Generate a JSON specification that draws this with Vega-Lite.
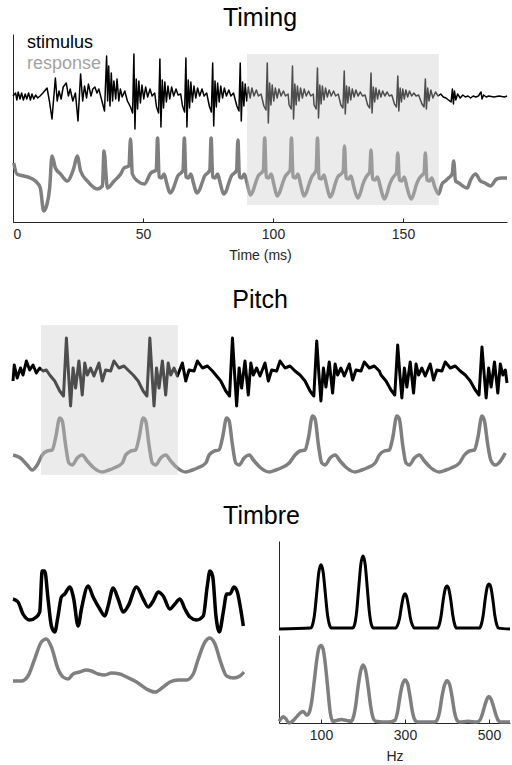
{
  "$schema": "https://vega.github.io/schema/vega-lite/v6.json",
  "padding": {"left": 9, "top": 6, "right": 0, "bottom": 0},
  "background": "white",
  "spacing": 26,
  "config": {
    "font": "Liberation Sans",
    "view": {"stroke": null},
    "title": {"fontSize": 25, "fontWeight": "normal", "color": "#000000", "anchor": "middle", "font": "Liberation Sans"},
    "axis": {"domainColor": "#262626", "tickColor": "#262626", "labelColor": "#262626", "titleColor": "#262626", "labelFontSize": 14, "titleFontSize": 14, "titleFontWeight": "normal", "grid": false, "labelFont": "Liberation Sans", "titleFont": "Liberation Sans"}
  },
  "vconcat": [
    {
      "title": {"text": "Timing", "offset": 3},
      "width": 494,
      "height": 188,
      "resolve": {"scale": {"y": "independent"}},
      "layer": [
        {
          "data": {"values": [
            {"t":0,"a":0},{"t":1,"a":3},{"t":1.5,"a":-4},{"t":2,"a":4},{"t":2.7,"a":-3},{"t":3.3,"a":3},{"t":4,"a":-4},{"t":4.7,"a":2},{"t":5.3,"a":-3},{"t":6,"a":3},{"t":6.7,"a":-4},{"t":7.3,"a":2},{"t":8,"a":-3},{"t":8.7,"a":1},{"t":9.5,"a":-2},{"t":10.4,"a":0},{"t":11.5,"a":3},{"t":13.1,"a":8},{"t":14,"a":-5},{"t":15,"a":-23},{"t":16.3,"a":18},{"t":17,"a":-5},{"t":17.7,"a":5},{"t":18.5,"a":-3},{"t":19.3,"a":9},{"t":20.5,"a":13},{"t":21.3,"a":0},{"t":22,"a":7},{"t":23,"a":-5},{"t":24,"a":3},{"t":25,"a":-25},{"t":26,"a":22},{"t":26.8,"a":-5},{"t":27.5,"a":10},{"t":28.3,"a":-2},{"t":29,"a":12},{"t":30,"a":0},{"t":30.7,"a":7},{"t":31.5,"a":9},{"t":32.3,"a":3},{"t":33,"a":7},{"t":34,"a":-3},{"t":35.2,"a":-15},{"t":36,"a":40},{"t":36.4,"a":-5},{"t":36.8,"a":30},{"t":37.3,"a":-10},{"t":37.8,"a":23},{"t":38.3,"a":-5},{"t":38.8,"a":15},{"t":39.5,"a":-3},{"t":40,"a":17},{"t":40.7,"a":-5},{"t":41.3,"a":7},{"t":42,"a":-1},{"t":43,"a":5},{"t":44,"a":-5},
            {"t":45.2,"a":-11},{"t":46,"a":-17},{"t":46.5,"a":42},{"t":46.9,"a":-33},{"t":47.4,"a":17},{"t":47.9,"a":-13},{"t":48.4,"a":15},{"t":49,"a":-7},{"t":49.6,"a":11},{"t":50.3,"a":-3},{"t":51,"a":9},{"t":51.8,"a":-1},{"t":52.7,"a":7},{"t":53.5,"a":0},{"t":54.5,"a":3},
            {"t":55.2,"a":-11},{"t":56,"a":-17},{"t":56.5,"a":37},{"t":56.9,"a":-31},{"t":57.4,"a":16},{"t":57.9,"a":-12},{"t":58.4,"a":14},{"t":59,"a":-6},{"t":59.6,"a":10},{"t":60.3,"a":-3},{"t":61,"a":9},{"t":61.8,"a":0},{"t":62.7,"a":7},{"t":63.5,"a":1},{"t":64.5,"a":2},
            {"t":65.2,"a":-10},{"t":66,"a":-16},{"t":66.5,"a":38},{"t":66.9,"a":-31},{"t":67.4,"a":16},{"t":67.9,"a":-12},{"t":68.4,"a":14},{"t":69,"a":-6},{"t":69.6,"a":10},{"t":70.3,"a":-2},{"t":71,"a":8},{"t":71.8,"a":0},{"t":72.7,"a":7},{"t":73.5,"a":0},{"t":74.5,"a":3},
            {"t":75.5,"a":-10},{"t":76.3,"a":-16},{"t":76.8,"a":33},{"t":77.2,"a":-30},{"t":77.7,"a":15},{"t":78.2,"a":-11},{"t":78.7,"a":13},{"t":79.3,"a":-6},{"t":79.9,"a":10},{"t":80.6,"a":-2},{"t":81.3,"a":8},{"t":82.1,"a":0},{"t":83,"a":6},{"t":83.8,"a":0},{"t":84.8,"a":3},
            {"t":86.1,"a":-10},{"t":86.9,"a":-15},{"t":87.4,"a":33},{"t":87.8,"a":-25},{"t":88.3,"a":14},{"t":88.8,"a":-10},{"t":89.3,"a":12},{"t":89.9,"a":-5},{"t":90.5,"a":9},{"t":91.2,"a":-2},{"t":91.9,"a":8},{"t":92.7,"a":0},{"t":93.6,"a":6},{"t":94.4,"a":0},{"t":95.4,"a":2},
            {"t":96.5,"a":-10},{"t":97.3,"a":-14},{"t":97.8,"a":33},{"t":98.2,"a":-27},{"t":98.7,"a":13},{"t":99.2,"a":-9},{"t":99.7,"a":11},{"t":100.3,"a":-5},{"t":100.9,"a":8},{"t":101.6,"a":-2},{"t":102.3,"a":7},{"t":103.1,"a":0},{"t":104,"a":5},{"t":104.8,"a":0},{"t":105.8,"a":2},
            {"t":106.2,"a":-9},{"t":107,"a":-13},{"t":107.5,"a":30},{"t":107.9,"a":-23},{"t":108.4,"a":12},{"t":108.9,"a":-9},{"t":109.4,"a":10},{"t":110,"a":-5},{"t":110.6,"a":8},{"t":111.3,"a":-2},{"t":112,"a":7},{"t":112.8,"a":0},{"t":113.7,"a":5},{"t":114.5,"a":0},{"t":115.5,"a":2},
            {"t":115.8,"a":-9},{"t":116.6,"a":-13},{"t":117.1,"a":28},{"t":117.5,"a":-22},{"t":118,"a":11},{"t":118.5,"a":-8},{"t":119,"a":10},{"t":119.6,"a":-4},{"t":120.2,"a":8},{"t":120.9,"a":-1},{"t":121.6,"a":6},{"t":122.4,"a":0},{"t":123.3,"a":5},{"t":124.1,"a":0},{"t":125.1,"a":2},
            {"t":126.1,"a":-9},{"t":126.9,"a":-12},{"t":127.4,"a":25},{"t":127.8,"a":-18},{"t":128.3,"a":10},{"t":128.8,"a":-7},{"t":129.3,"a":9},{"t":129.9,"a":-4},{"t":130.5,"a":7},{"t":131.2,"a":-1},{"t":131.9,"a":6},{"t":132.7,"a":0},{"t":133.6,"a":4},{"t":134.4,"a":0},{"t":135.4,"a":1},
            {"t":136.4,"a":-9},{"t":137.2,"a":-12},{"t":137.7,"a":23},{"t":138.1,"a":-17},{"t":138.6,"a":9},{"t":139.1,"a":-6},{"t":139.6,"a":8},{"t":140.2,"a":-3},{"t":140.8,"a":6},{"t":141.5,"a":-1},{"t":142.2,"a":5},{"t":143,"a":0},{"t":143.9,"a":4},{"t":144.7,"a":0},{"t":145.7,"a":1},
            {"t":146.7,"a":-8},{"t":147.5,"a":-11},{"t":148,"a":20},{"t":148.4,"a":-15},{"t":148.9,"a":8},{"t":149.4,"a":-6},{"t":149.9,"a":7},{"t":150.5,"a":-3},{"t":151.1,"a":6},{"t":151.8,"a":-1},{"t":152.5,"a":5},{"t":153.3,"a":0},{"t":154.2,"a":3},{"t":155,"a":0},{"t":156,"a":1},
            {"t":157.3,"a":-8},{"t":158.1,"a":-11},{"t":158.6,"a":17},{"t":159,"a":-13},{"t":159.5,"a":8},{"t":160,"a":-5},{"t":160.7,"a":6},{"t":161.5,"a":-2},{"t":162.5,"a":4},{"t":163.5,"a":0},{"t":164.5,"a":2},{"t":165.5,"a":-1},{"t":166.5,"a":-2},{"t":167.5,"a":-4},{"t":168.5,"a":-6},{"t":169,"a":7},{"t":169.4,"a":-8},{"t":169.8,"a":5},{"t":170.3,"a":-4},{"t":171,"a":2},{"t":172,"a":-2},{"t":173,"a":1},{"t":174,"a":-1},{"t":175,"a":0},{"t":176,"a":-2},{"t":177,"a":0},{"t":178,"a":-1},{"t":179,"a":0},{"t":180,"a":4},{"t":180.4,"a":-3},{"t":181,"a":1},{"t":182,"a":-1},{"t":183,"a":0},{"t":185,"a":-1},{"t":187,"a":0},{"t":189,"a":-1},{"t":190,"a":0}
          ]},
          "mark": {"type": "line", "strokeWidth": 1.5, "strokeJoin": "round"},
          "encoding": {
            "x": {"field": "t", "type": "quantitative", "scale": {"domain": [0, 190], "nice": false, "zero": false},
                  "axis": {"values": [0, 50, 100, 150], "title": "Time (ms)", "tickSize": -4, "labelPadding": 9, "titlePadding": 7, "domain": true}},
            "y": {"field": "a", "type": "quantitative", "scale": {"domain": [-126, 62], "nice": false, "zero": false},
                  "axis": {"labels": false, "ticks": false, "title": null, "domain": true}},
            "color": {"datum": "stimulus", "type": "nominal", "scale": {"domain": ["stimulus", "response"], "range": ["#000000", "#7f7f7f"]},
                      "legend": {"orient": "none", "legendX": -4, "legendY": 0, "title": null, "labelFontSize": 18, "labelFont": "Liberation Sans", "symbolSize": 0, "symbolOpacity": 0, "symbolStrokeWidth": 0, "labelOffset": 0, "rowPadding": 3,
                                 "encode": {"labels": {"update": {"fill": {"signal": "datum.value === 'stimulus' ? '#000000' : '#a3a3a3'"}}}}}}
          }
        },
        {
          "data": {"values": [
            {"t":0.3,"a":23},{"t":1.5,"a":12},{"t":4.1,"a":10},{"t":6.7,"a":8},{"t":8.6,"a":5},{"t":10.5,"a":-2},{"t":11.8,"a":-25},{"t":13.1,"a":-18},{"t":14.1,"a":-2},{"t":15,"a":30},{"t":16.3,"a":18},{"t":18.3,"a":12},{"t":20.8,"a":5},{"t":23.4,"a":18},{"t":24.7,"a":30},{"t":26,"a":15},{"t":28.6,"a":5},{"t":32.4,"a":-3},{"t":34.4,"a":0},{"t":35,"a":35},{"t":36.3,"a":-2},{"t":38.9,"a":5},{"t":41.4,"a":12},{"t":42.7,"a":18},{"t":44.6,"a":20},{"t":45.2,"a":47},{"t":45.9,"a":12},{"t":47.9,"a":5},{"t":50.5,"a":2},{"t":53,"a":13},
            {"t":55.1,"a":16},{"t":55.6,"a":48},{"t":56.2,"a":9},{"t":57.1,"a":8},{"t":58.1,"a":12},{"t":59.1,"a":3},{"t":60.4,"a":-7},{"t":61.4,"a":-4},{"t":62.4,"a":3},{"t":63.4,"a":10},{"t":64.6,"a":13},
            {"t":65.4,"a":16},{"t":65.9,"a":48},{"t":66.5,"a":9},{"t":67.4,"a":8},{"t":68.4,"a":12},{"t":69.4,"a":3},{"t":70.7,"a":-7},{"t":71.7,"a":-4},{"t":72.7,"a":3},{"t":73.7,"a":10},{"t":74.9,"a":13},
            {"t":75.7,"a":16},{"t":76.2,"a":48},{"t":76.8,"a":9},{"t":77.7,"a":8},{"t":78.7,"a":12},{"t":79.7,"a":3},{"t":81,"a":-8},{"t":82,"a":-5},{"t":83,"a":3},{"t":84,"a":10},{"t":85.2,"a":13},
            {"t":86,"a":16},{"t":86.5,"a":46},{"t":87.1,"a":9},{"t":88,"a":8},{"t":89,"a":12},{"t":90,"a":3},{"t":91.3,"a":-9},{"t":92.3,"a":-5},{"t":93.3,"a":3},{"t":94.3,"a":10},{"t":95.5,"a":13},
            {"t":96.3,"a":16},{"t":96.8,"a":48},{"t":97.4,"a":9},{"t":98.3,"a":8},{"t":99.3,"a":12},{"t":100.3,"a":2},{"t":101.6,"a":-10},{"t":102.6,"a":-6},{"t":103.6,"a":2},{"t":104.6,"a":9},{"t":105.8,"a":13},
            {"t":106.6,"a":16},{"t":107.1,"a":48},{"t":107.7,"a":9},{"t":108.6,"a":8},{"t":109.6,"a":12},{"t":110.6,"a":2},{"t":111.9,"a":-10},{"t":112.9,"a":-6},{"t":113.9,"a":2},{"t":114.9,"a":9},{"t":116,"a":13},
            {"t":116.6,"a":16},{"t":117.1,"a":48},{"t":117.7,"a":8},{"t":118.6,"a":7},{"t":119.6,"a":11},{"t":120.6,"a":1},{"t":121.9,"a":-11},{"t":122.9,"a":-7},{"t":123.9,"a":2},{"t":124.9,"a":9},{"t":126.2,"a":12},
            {"t":127,"a":15},{"t":127.5,"a":40},{"t":128.1,"a":8},{"t":129,"a":7},{"t":130,"a":10},{"t":131,"a":0},{"t":132.6,"a":-12},{"t":133.6,"a":-7},{"t":134.6,"a":2},{"t":135.6,"a":8},{"t":136.7,"a":12},
            {"t":137.2,"a":14},{"t":137.7,"a":36},{"t":138.3,"a":7},{"t":139.2,"a":6},{"t":140.2,"a":9},{"t":141.2,"a":0},{"t":142.8,"a":-13},{"t":143.8,"a":-8},{"t":144.8,"a":1},{"t":145.8,"a":7},{"t":146.9,"a":11},
            {"t":147.5,"a":13},{"t":148,"a":33},{"t":148.6,"a":6},{"t":149.5,"a":5},{"t":150.5,"a":9},{"t":151.5,"a":-1},{"t":153.1,"a":-13},{"t":154.1,"a":-8},{"t":155.1,"a":1},{"t":156.1,"a":7},{"t":157.4,"a":11},
            {"t":158.1,"a":13},{"t":158.6,"a":33},{"t":159.2,"a":6},{"t":160.1,"a":5},{"t":161.1,"a":8},{"t":162.1,"a":0},{"t":163.7,"a":-8},{"t":165,"a":2},{"t":166.3,"a":5},{"t":167.5,"a":8},{"t":168.9,"a":12},{"t":169.5,"a":25},{"t":170.2,"a":5},{"t":171.5,"a":3},{"t":173,"a":0},{"t":174.7,"a":-2},{"t":176,"a":6},{"t":177.9,"a":12},{"t":179.8,"a":5},{"t":181.5,"a":3},{"t":183.7,"a":0},{"t":186,"a":7},{"t":188,"a":8},{"t":190,"a":8}
          ]},
          "mark": {"type": "line", "strokeWidth": 3.5, "strokeJoin": "round", "interpolate": "monotone"},
          "encoding": {
            "x": {"field": "t", "type": "quantitative", "scale": {"domain": [0, 190], "nice": false, "zero": false}},
            "y": {"field": "a", "type": "quantitative", "scale": {"domain": [-36, 152], "nice": false, "zero": false}, "axis": null},
            "color": {"datum": "response", "type": "nominal"}
          }
        },
        {
          "data": {"values": [{"t0": 90, "t1": 163.8, "a0": 42, "a1": -109}]},
          "mark": {"type": "rect", "fill": "#cacaca", "opacity": 0.38},
          "encoding": {
            "x": {"field": "t0", "type": "quantitative", "scale": {"domain": [0, 190], "nice": false, "zero": false}},
            "x2": {"field": "t1"},
            "y": {"field": "a0", "type": "quantitative", "scale": {"domain": [-126, 62], "nice": false, "zero": false}, "axis": null},
            "y2": {"field": "a1"}
          }
        }
      ]
    },
    {
      "title": {"text": "Pitch", "offset": 10},
      "width": 494,
      "height": 155,
      "resolve": {"scale": {"y": "independent"}},
      "layer": [
        {
          "data": {"values": [
            {"t":0,"a":-8},{"t":0.15,"a":8},{"t":0.5,"a":-5},{"t":0.9,"a":5},{"t":1.2,"a":-2},{"t":1.6,"a":12},{"t":2,"a":3},{"t":2.4,"a":8},{"t":2.8,"a":0},{"t":3.2,"a":5},{"t":3.6,"a":2},{"t":4,"a":3},
            {"t":4.4,"a":-2},{"t":5,"a":-8},{"t":5.6,"a":-18},{"t":6.05,"a":-23},{"t":6.4,"a":35},{"t":6.65,"a":0},{"t":6.9,"a":-33},{"t":7.2,"a":5},{"t":7.5,"a":-15},{"t":7.9,"a":12},{"t":8.3,"a":-22},{"t":8.6,"a":10},{"t":8.9,"a":-2},{"t":9.3,"a":5},{"t":9.7,"a":-3},{"t":10.3,"a":10},{"t":10.7,"a":-8},{"t":11.1,"a":3},{"t":11.7,"a":2},{"t":12.1,"a":12},{"t":12.7,"a":5},{"t":13.3,"a":7},{"t":13.9,"a":2},
            {"t":14.4,"a":-2},{"t":15,"a":-8},{"t":15.6,"a":-18},{"t":16.05,"a":-23},{"t":16.4,"a":35},{"t":16.65,"a":0},{"t":16.9,"a":-33},{"t":17.2,"a":5},{"t":17.5,"a":-15},{"t":17.9,"a":12},{"t":18.3,"a":-22},{"t":18.6,"a":10},{"t":18.9,"a":-2},{"t":19.3,"a":5},{"t":19.7,"a":-3},{"t":20.3,"a":10},{"t":20.7,"a":-8},{"t":21.1,"a":3},{"t":21.7,"a":2},{"t":22.1,"a":12},{"t":22.7,"a":5},{"t":23.3,"a":7},{"t":23.9,"a":2},
            {"t":24.3,"a":-2},{"t":24.9,"a":-8},{"t":25.5,"a":-18},{"t":25.95,"a":-23},{"t":26.3,"a":35},{"t":26.55,"a":0},{"t":26.8,"a":-33},{"t":27.1,"a":5},{"t":27.4,"a":-15},{"t":27.8,"a":12},{"t":28.2,"a":-22},{"t":28.5,"a":10},{"t":28.8,"a":-2},{"t":29.2,"a":5},{"t":29.6,"a":-3},{"t":30.2,"a":10},{"t":30.6,"a":-8},{"t":31,"a":3},{"t":31.6,"a":2},{"t":32,"a":12},{"t":32.6,"a":5},{"t":33.2,"a":7},{"t":33.8,"a":2},
            {"t":34.4,"a":-2},{"t":35,"a":-8},{"t":35.6,"a":-18},{"t":36.05,"a":-23},{"t":36.4,"a":32},{"t":36.65,"a":0},{"t":36.9,"a":-28},{"t":37.2,"a":5},{"t":37.5,"a":-14},{"t":37.9,"a":11},{"t":38.3,"a":-20},{"t":38.6,"a":9},{"t":38.9,"a":-2},{"t":39.3,"a":5},{"t":39.7,"a":-3},{"t":40.3,"a":9},{"t":40.7,"a":-7},{"t":41.1,"a":3},{"t":41.7,"a":2},{"t":42.1,"a":11},{"t":42.7,"a":5},{"t":43.3,"a":7},{"t":43.9,"a":2},
            {"t":44.1,"a":-2},{"t":44.7,"a":-8},{"t":45.3,"a":-17},{"t":45.75,"a":-22},{"t":46.1,"a":28},{"t":46.35,"a":0},{"t":46.6,"a":-25},{"t":46.9,"a":5},{"t":47.2,"a":-14},{"t":47.6,"a":11},{"t":48,"a":-20},{"t":48.3,"a":9},{"t":48.6,"a":-2},{"t":49,"a":5},{"t":49.4,"a":-3},{"t":50,"a":9},{"t":50.4,"a":-7},{"t":50.8,"a":3},{"t":51.4,"a":2},{"t":51.8,"a":11},{"t":52.4,"a":5},{"t":53,"a":7},{"t":53.6,"a":2},
            {"t":54.2,"a":-2},{"t":54.8,"a":-8},{"t":55.4,"a":-17},{"t":55.85,"a":-22},{"t":56.2,"a":26},{"t":56.45,"a":0},{"t":56.7,"a":-25},{"t":57,"a":5},{"t":57.3,"a":-14},{"t":57.7,"a":11},{"t":58.1,"a":-20},{"t":58.4,"a":9},{"t":58.7,"a":-2},{"t":59,"a":3},{"t":59.2,"a":-10}
          ]},
          "mark": {"type": "line", "strokeWidth": 3, "strokeJoin": "round", "color": "#000000"},
          "encoding": {
            "x": {"field": "t", "type": "quantitative", "scale": {"domain": [0, 59.2], "nice": false, "zero": false}, "axis": null},
            "y": {"field": "a", "type": "quantitative", "scale": {"domain": [-105, 50], "nice": false, "zero": false}, "axis": null}
          }
        },
        {
          "data": {"values": [
            {"t":0,"a":3},{"t":0.9,"a":0},{"t":1.7,"a":-7},{"t":2.3,"a":-12},{"t":2.9,"a":-7},
            {"t":3.5,"a":3},{"t":4.1,"a":7},{"t":4.7,"a":8},{"t":5.1,"a":20},{"t":5.6,"a":40},{"t":5.9,"a":37},{"t":6.3,"a":13},{"t":6.7,"a":-5},{"t":7.1,"a":-7},{"t":7.7,"a":0},{"t":8.3,"a":3},{"t":8.9,"a":-3},{"t":9.7,"a":-10},{"t":10.7,"a":-14},{"t":11.5,"a":-12},{"t":12.1,"a":-10},{"t":13.1,"a":-5},
            {"t":13.5,"a":3},{"t":14.1,"a":7},{"t":14.7,"a":8},{"t":15.1,"a":20},{"t":15.6,"a":40},{"t":15.9,"a":37},{"t":16.3,"a":13},{"t":16.7,"a":-5},{"t":17.1,"a":-7},{"t":17.7,"a":0},{"t":18.3,"a":3},{"t":18.9,"a":-3},{"t":19.7,"a":-10},{"t":20.7,"a":-14},{"t":21.5,"a":-12},{"t":22.1,"a":-10},{"t":23.1,"a":-5},
            {"t":23.5,"a":3},{"t":24.1,"a":7},{"t":24.7,"a":8},{"t":25.1,"a":20},{"t":25.6,"a":40},{"t":25.9,"a":37},{"t":26.3,"a":13},{"t":26.7,"a":-5},{"t":27.1,"a":-7},{"t":27.7,"a":0},{"t":28.3,"a":3},{"t":28.9,"a":-3},{"t":29.7,"a":-10},{"t":30.7,"a":-14},{"t":31.5,"a":-12},{"t":32.1,"a":-10},{"t":33.1,"a":-5},
            {"t":33.8,"a":3},{"t":34.4,"a":7},{"t":35,"a":8},{"t":35.4,"a":20},{"t":35.9,"a":42},{"t":36.2,"a":39},{"t":36.6,"a":13},{"t":37,"a":-5},{"t":37.4,"a":-7},{"t":38,"a":0},{"t":38.6,"a":3},{"t":39.2,"a":-3},{"t":40,"a":-10},{"t":41,"a":-14},{"t":41.8,"a":-12},{"t":42.4,"a":-10},{"t":43.4,"a":-5},
            {"t":43.9,"a":3},{"t":44.5,"a":7},{"t":45.1,"a":8},{"t":45.5,"a":20},{"t":46,"a":42},{"t":46.3,"a":39},{"t":46.7,"a":13},{"t":47.1,"a":-5},{"t":47.5,"a":-7},{"t":48.1,"a":0},{"t":48.7,"a":3},{"t":49.3,"a":-3},{"t":50.1,"a":-10},{"t":51.1,"a":-14},{"t":51.9,"a":-12},{"t":52.5,"a":-10},{"t":53.5,"a":-5},
            {"t":54.1,"a":3},{"t":54.7,"a":7},{"t":55.3,"a":8},{"t":55.7,"a":20},{"t":56.2,"a":42},{"t":56.5,"a":37},{"t":56.9,"a":13},{"t":57.3,"a":-3},{"t":57.8,"a":-7},{"t":59,"a":5}
          ]},
          "mark": {"type": "line", "strokeWidth": 3.5, "strokeJoin": "round", "color": "#7f7f7f", "interpolate": "monotone"},
          "encoding": {
            "x": {"field": "t", "type": "quantitative", "scale": {"domain": [0, 59.2], "nice": false, "zero": false}, "axis": null},
            "y": {"field": "a", "type": "quantitative", "scale": {"domain": [-20, 135], "nice": false, "zero": false}, "axis": null}
          }
        },
        {
          "data": {"values": [{"t0": 3.35, "t1": 19.75, "a0": 48, "a1": -102}]},
          "mark": {"type": "rect", "fill": "#cacaca", "opacity": 0.38},
          "encoding": {
            "x": {"field": "t0", "type": "quantitative", "scale": {"domain": [0, 59.2], "nice": false, "zero": false}, "axis": null},
            "x2": {"field": "t1"},
            "y": {"field": "a0", "type": "quantitative", "scale": {"domain": [-105, 50], "nice": false, "zero": false}, "axis": null},
            "y2": {"field": "a1"}
          }
        }
      ]
    },
    {
      "title": {"text": "Timbre", "offset": 12},
      "spacing": 31,
      "hconcat": [
        {
          "width": 231,
          "height": 180,
          "resolve": {"scale": {"y": "independent"}},
          "layer": [
            {
              "data": {"values": [
                {"t":0,"a":5},{"t":0.3,"a":2},{"t":0.6,"a":-10},{"t":1,"a":-16},{"t":1.4,"a":-13},{"t":1.6,"a":-8},{"t":1.75,"a":33},{"t":1.9,"a":33},{"t":2.1,"a":5},{"t":2.3,"a":-22},{"t":2.5,"a":-28},{"t":2.7,"a":-12},{"t":2.9,"a":7},{"t":3.1,"a":10},{"t":3.4,"a":17},{"t":3.64,"a":5},{"t":3.9,"a":-22},{"t":4.1,"a":-5},{"t":4.5,"a":18},{"t":4.8,"a":7},{"t":5.2,"a":-5},{"t":5.5,"a":-12},{"t":5.7,"a":-2},{"t":6,"a":16},{"t":6.3,"a":5},{"t":6.6,"a":-8},{"t":6.9,"a":-2},{"t":7.4,"a":17},{"t":7.8,"a":5},{"t":8.1,"a":-3},{"t":8.4,"a":3},{"t":8.7,"a":12},{"t":9,"a":8},{"t":9.4,"a":-5},{"t":9.7,"a":0},{"t":10,"a":5},{"t":10.3,"a":-5},{"t":10.6,"a":-13},{"t":11,"a":-16},{"t":11.4,"a":-12},{"t":11.64,"a":18},{"t":11.8,"a":33},{"t":11.96,"a":28},{"t":12.16,"a":-12},{"t":12.36,"a":-28},{"t":12.6,"a":-8},{"t":12.8,"a":10},{"t":13,"a":10},{"t":13.24,"a":17},{"t":13.44,"a":12},{"t":13.64,"a":-5},{"t":13.8,"a":-22}
              ]},
              "mark": {"type": "line", "strokeWidth": 3.5, "strokeJoin": "round", "color": "#000000", "interpolate": "monotone"},
              "encoding": {
                "x": {"field": "t", "type": "quantitative", "scale": {"domain": [0, 13.84], "nice": false, "zero": false}, "axis": null},
                "y": {"field": "a", "type": "quantitative", "scale": {"domain": [-117, 63], "nice": false, "zero": false}, "axis": null}
              }
            },
            {
              "data": {"values": [
                {"t":0,"a":-2},{"t":0.5,"a":-2},{"t":0.9,"a":3},{"t":1.3,"a":20},{"t":1.7,"a":37},{"t":2,"a":40},{"t":2.3,"a":32},{"t":2.7,"a":10},{"t":3,"a":2},{"t":3.3,"a":0},{"t":3.6,"a":5},{"t":4,"a":7},{"t":4.4,"a":9},{"t":4.7,"a":8},{"t":5.1,"a":5},{"t":5.5,"a":4},{"t":5.9,"a":6},{"t":6.4,"a":5},{"t":6.8,"a":2},{"t":7.4,"a":-3},{"t":8,"a":-10},{"t":8.5,"a":-13},{"t":9,"a":-8},{"t":9.4,"a":-3},{"t":9.9,"a":-1},{"t":10.4,"a":-1},{"t":10.8,"a":5},{"t":11.1,"a":20},{"t":11.5,"a":37},{"t":11.8,"a":41},{"t":12.1,"a":35},{"t":12.44,"a":17},{"t":12.8,"a":3},{"t":13.2,"a":1},{"t":13.6,"a":3},{"t":13.84,"a":7}
              ]},
              "mark": {"type": "line", "strokeWidth": 3.5, "strokeJoin": "round", "color": "#7f7f7f", "interpolate": "monotone"},
              "encoding": {
                "x": {"field": "t", "type": "quantitative", "scale": {"domain": [0, 13.84], "nice": false, "zero": false}, "axis": null},
                "y": {"field": "a", "type": "quantitative", "scale": {"domain": [-42, 138], "nice": false, "zero": false}, "axis": null}
              }
            }
          ]
        },
        {
          "spacing": 4,
          "vconcat": [
            {
              "width": 231,
              "height": 88,
              "data": {"values": [
                {"f":0,"a":0},{"f":75,"a":0.01},{"f":80,"a":0.05},{"f":85,"a":0.18},{"f":90,"a":0.42},{"f":95,"a":0.65},{"f":100,"a":0.73},{"f":105,"a":0.65},{"f":110,"a":0.42},{"f":115,"a":0.18},{"f":120,"a":0.05},{"f":125,"a":0.01},
                {"f":175,"a":0.01},{"f":180,"a":0.05},{"f":185,"a":0.2},{"f":190,"a":0.48},{"f":195,"a":0.74},{"f":200,"a":0.83},{"f":205,"a":0.74},{"f":210,"a":0.48},{"f":215,"a":0.2},{"f":220,"a":0.05},{"f":225,"a":0.01},
                {"f":278,"a":0.01},{"f":282,"a":0.04},{"f":287,"a":0.12},{"f":292,"a":0.27},{"f":297,"a":0.38},{"f":300,"a":0.4},{"f":303,"a":0.38},{"f":308,"a":0.27},{"f":313,"a":0.12},{"f":318,"a":0.04},{"f":322,"a":0.01},
                {"f":377,"a":0.01},{"f":381,"a":0.04},{"f":386,"a":0.15},{"f":391,"a":0.33},{"f":396,"a":0.46},{"f":400,"a":0.49},{"f":404,"a":0.46},{"f":409,"a":0.33},{"f":414,"a":0.15},{"f":419,"a":0.04},{"f":423,"a":0.01},
                {"f":477,"a":0.01},{"f":481,"a":0.04},{"f":486,"a":0.15},{"f":491,"a":0.34},{"f":496,"a":0.48},{"f":500,"a":0.51},{"f":504,"a":0.48},{"f":509,"a":0.34},{"f":514,"a":0.15},{"f":519,"a":0.04},{"f":523,"a":0.01},{"f":550,"a":0}
              ]},
              "mark": {"type": "line", "strokeWidth": 3, "strokeJoin": "round", "color": "#000000", "interpolate": "monotone"},
              "encoding": {
                "x": {"field": "f", "type": "quantitative", "scale": {"domain": [0, 550], "nice": false, "zero": false}, "axis": null},
                "y": {"field": "a", "type": "quantitative", "scale": {"domain": [0, 1], "nice": false}, "axis": {"labels": false, "ticks": false, "title": null, "domain": true}}
              }
            },
            {
              "width": 231,
              "height": 88,
              "data": {"values": [
                {"f":0,"a":0.02},{"f":5,"a":0.05},{"f":10,"a":0.07},{"f":16,"a":0.05},{"f":24,"a":0},{"f":32,"a":0.02},{"f":42,"a":0.07},{"f":52,"a":0.12},{"f":58,"a":0.13},{"f":66,"a":0.09},{"f":72,"a":0.12},{"f":78,"a":0.25},{"f":84,"a":0.48},{"f":90,"a":0.72},{"f":95,"a":0.85},{"f":100,"a":0.88},{"f":105,"a":0.84},{"f":110,"a":0.68},{"f":116,"a":0.4},{"f":122,"a":0.12},{"f":128,"a":0.02},{"f":138,"a":0.03},{"f":148,"a":0.04},{"f":160,"a":0.03},{"f":172,"a":0.02},
                {"f":176,"a":0.05},{"f":182,"a":0.18},{"f":188,"a":0.4},{"f":194,"a":0.58},{"f":200,"a":0.66},{"f":206,"a":0.6},{"f":212,"a":0.42},{"f":218,"a":0.2},{"f":224,"a":0.06},{"f":230,"a":0.02},{"f":260,"a":0.01},
                {"f":276,"a":0.03},{"f":282,"a":0.12},{"f":288,"a":0.3},{"f":294,"a":0.44},{"f":300,"a":0.49},{"f":306,"a":0.45},{"f":312,"a":0.3},{"f":318,"a":0.12},{"f":324,"a":0.03},{"f":330,"a":0.01},{"f":370,"a":0.01},
                {"f":376,"a":0.03},{"f":382,"a":0.12},{"f":388,"a":0.3},{"f":394,"a":0.43},{"f":400,"a":0.48},{"f":406,"a":0.44},{"f":412,"a":0.3},{"f":418,"a":0.12},{"f":424,"a":0.03},{"f":430,"a":0.01},{"f":450,"a":0.02},{"f":470,"a":0.01},
                {"f":478,"a":0.03},{"f":484,"a":0.1},{"f":490,"a":0.2},{"f":495,"a":0.27},{"f":500,"a":0.3},{"f":505,"a":0.27},{"f":510,"a":0.2},{"f":516,"a":0.1},{"f":522,"a":0.03},{"f":528,"a":0.01},{"f":550,"a":0.01}
              ]},
              "mark": {"type": "line", "strokeWidth": 3.5, "strokeJoin": "round", "color": "#7f7f7f", "interpolate": "monotone"},
              "encoding": {
                "x": {"field": "f", "type": "quantitative", "scale": {"domain": [0, 550], "nice": false, "zero": false},
                      "axis": {"values": [100, 300, 500], "title": "Hz", "tickSize": -4, "labelPadding": 9, "titlePadding": 7, "domain": true}},
                "y": {"field": "a", "type": "quantitative", "scale": {"domain": [0, 1], "nice": false}, "axis": {"labels": false, "ticks": false, "title": null, "domain": true}}
              }
            }
          ]
        }
      ]
    }
  ]
}
